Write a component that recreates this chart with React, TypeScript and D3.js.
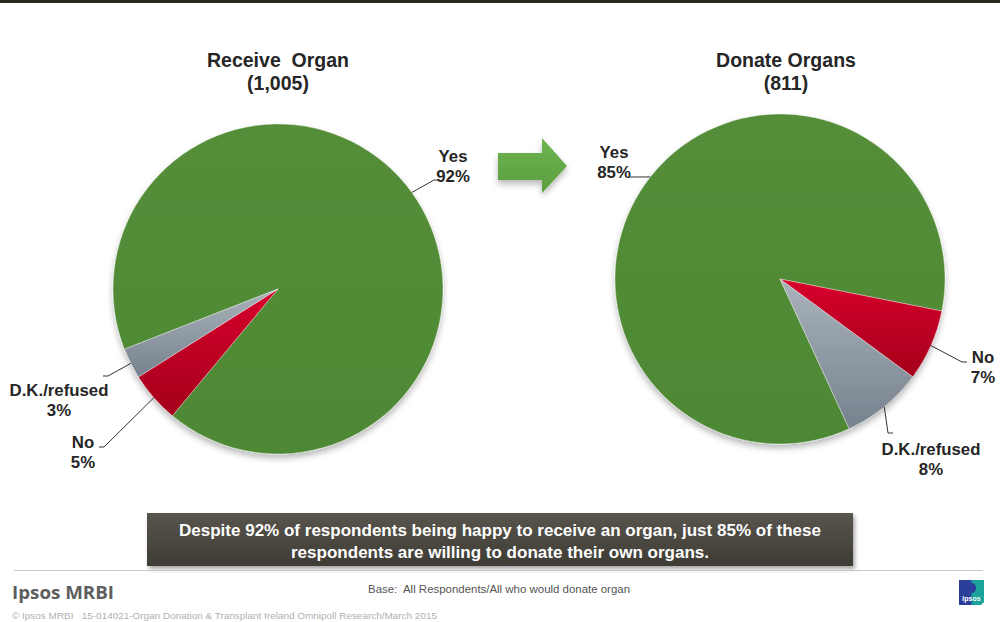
import React from "react";
import * as d3 from "d3";

const categories = ["Yes", "No", "D.K./refused"];
const receiveValues = [92, 5, 3];
const donateValues = [85, 7, 8];
const receiveTitle = ["Receive  Organ", "(1,005)"];
const donateTitle = ["Donate Organs", "(811)"];
const boxLines = [
  "Despite 92% of respondents being happy to receive an organ, just 85% of these",
  "respondents are willing to donate their own organs.",
];
const baseText = "Base:  All Respondents/All who would donate organ";
const copyText = "© Ipsos MRBI   15-014021-Organ Donation & Transplant Ireland Omnipoll Research/March 2015";

// layout (not data)
const R = 165;
const pies = [
  {
    values: receiveValues,
    title: receiveTitle,
    cx: 278,
    cy: 289,
    startDeg: 248.6,
    titleX: 278,
    labels: [
      { elbow: [434, 180], tx: 453, ty: 162 },
      { elbow: [104, 447], tx: 83, ty: 448 },
      { elbow: [108, 376], tx: 59, ty: 396 },
    ],
  },
  {
    values: donateValues,
    title: donateTitle,
    cx: 780,
    cy: 279,
    startDeg: 155.2,
    titleX: 786,
    labels: [
      { elbow: [634, 177], tx: 614, ty: 158 },
      { elbow: [962, 362], tx: 983, ty: 363 },
      { elbow: [888, 433], tx: 931, ty: 455 },
    ],
  },
];

const fills = ["url(#gGreen)", "url(#gRed)", "url(#gGrey)"];
const FONT = "'Liberation Sans', Arial, Helvetica, sans-serif";
const PRE = { whiteSpace: "pre" as const };

export default function App() {
  const arc = d3.arc<d3.PieArcDatum<number>>().innerRadius(0).outerRadius(R);
  return (
    <svg width={1000} height={622} style={{ position: "absolute", left: 0, top: 0, background: "#fff" }} fontFamily={FONT}>
      <defs>
        <linearGradient id="gGreen" x1="0" y1="0" x2="0" y2="1">
          <stop offset="0" stopColor="#548e38" />
          <stop offset="1" stopColor="#4e8834" />
        </linearGradient>
        <linearGradient id="gRed" x1="0" y1="0" x2="0" y2="1">
          <stop offset="0" stopColor="#d8002c" />
          <stop offset="1" stopColor="#a3001b" />
        </linearGradient>
        <linearGradient id="gGrey" x1="0" y1="0" x2="0" y2="1">
          <stop offset="0" stopColor="#aab3bb" />
          <stop offset="1" stopColor="#76828e" />
        </linearGradient>
        <linearGradient id="gArrow" x1="0" y1="0" x2="0" y2="1">
          <stop offset="0" stopColor="#70b451" />
          <stop offset="1" stopColor="#5a9f3e" />
        </linearGradient>
        <linearGradient id="gBox" x1="0" y1="0" x2="0" y2="1">
          <stop offset="0" stopColor="#57554c" />
          <stop offset="1" stopColor="#3e3c35" />
        </linearGradient>
        <linearGradient id="gLogo" x1="0" y1="0" x2="1" y2="0">
          <stop offset="0.45" stopColor="#2b3f9a" />
          <stop offset="0.55" stopColor="#1aa39a" />
        </linearGradient>
        <filter id="shadow" x="-20%" y="-20%" width="140%" height="150%">
          <feDropShadow dx="0" dy="4" stdDeviation="3" floodColor="#000" floodOpacity="0.28" />
        </filter>
        <filter id="boxShadow" x="-5%" y="-20%" width="110%" height="160%">
          <feDropShadow dx="2" dy="3" stdDeviation="2" floodColor="#000" floodOpacity="0.35" />
        </filter>
      </defs>

      <rect x={0} y={0} width={1000} height={3} fill="#2a2a22" />

      {pies.map((p, pi) => {
        const s = (p.startDeg * Math.PI) / 180;
        const arcs = d3.pie<number>().sort(null).startAngle(s).endAngle(s + 2 * Math.PI)(p.values);
        return (
          <g key={pi}>
            <text x={p.titleX} y={67} textAnchor="middle" fontWeight="bold" fontSize={19.5} fill="#262626" style={PRE}>
              {p.title[0]}
            </text>
            <text x={p.titleX} y={90} textAnchor="middle" fontWeight="bold" fontSize={19.5} fill="#262626">
              {p.title[1]}
            </text>
            <g transform={`translate(${p.cx},${p.cy})`} filter="url(#shadow)">
              {arcs.map((a, i) => (
                <path key={i} d={arc(a) || ""} fill={fills[i]} stroke="#ffffff" strokeWidth={0.6} strokeOpacity={0.6} />
              ))}
            </g>
            {arcs.map((a, i) => {
              const mid = (a.startAngle + a.endAngle) / 2;
              const ex = p.cx + R * Math.sin(mid);
              const ey = p.cy - R * Math.cos(mid);
              const L = p.labels[i];
              const dir = L.tx > L.elbow[0] ? 1 : -1;
              return (
                <g key={i}>
                  <polyline
                    points={`${ex},${ey} ${L.elbow[0]},${L.elbow[1]} ${L.elbow[0] + dir * 5},${L.elbow[1]}`}
                    fill="none"
                    stroke="#333"
                    strokeWidth={1}
                  />
                  <text x={L.tx} y={L.ty} textAnchor="middle" fontWeight="bold" fontSize={16.8} fill="#262626">
                    {categories[i]}
                  </text>
                  <text x={L.tx} y={L.ty + 20} textAnchor="middle" fontWeight="bold" fontSize={16.8} fill="#262626">
                    {p.values[i]}%
                  </text>
                </g>
              );
            })}
          </g>
        );
      })}

      <path
        d="M498,153 L542,153 L542,138 L567,166 L542,193 L542,180 L498,180 Z"
        fill="url(#gArrow)"
        filter="url(#shadow)"
      />

      <rect x={147} y={513} width={706} height={53} fill="url(#gBox)" filter="url(#boxShadow)" />
      <text x={500} y={536} textAnchor="middle" fontWeight="bold" fontSize={16.5} fill="#fff" textLength={642} lengthAdjust="spacingAndGlyphs">
        {boxLines[0]}
      </text>
      <text x={500} y={558} textAnchor="middle" fontWeight="bold" fontSize={16.5} fill="#fff" textLength={418} lengthAdjust="spacingAndGlyphs">
        {boxLines[1]}
      </text>

      <line x1={14} x2={983} y1={570.5} y2={570.5} stroke="#c8c8c8" strokeWidth={1} />
      <text x={12} y={599} fontWeight="bold" fontSize={17} fill="#5e5e5e" fontFamily="'Open Sans', 'DejaVu Sans', sans-serif" textLength={102} lengthAdjust="spacingAndGlyphs">
        Ipsos MRBI
      </text>
      <text x={368} y={593} fontSize={11} fill="#555" style={PRE} textLength={262} lengthAdjust="spacingAndGlyphs">
        {baseText}
      </text>
      <text x={12} y={619} fontSize={9} fill="#b0b0b0" style={PRE} textLength={425} lengthAdjust="spacingAndGlyphs">
        {copyText}
      </text>

      <g transform="translate(959,580)">
        <path d="M0,0 L25,0 L25,22 L22,25 L0,25 Z" fill="url(#gLogo)" />
        <ellipse cx={13} cy={8} rx={4} ry={5} fill="#2b3f9a" />
        <text x={12.5} y={21} textAnchor="middle" fontSize={7} fontWeight="bold" fill="#fff">
          Ipsos
        </text>
      </g>
    </svg>
  );
}
